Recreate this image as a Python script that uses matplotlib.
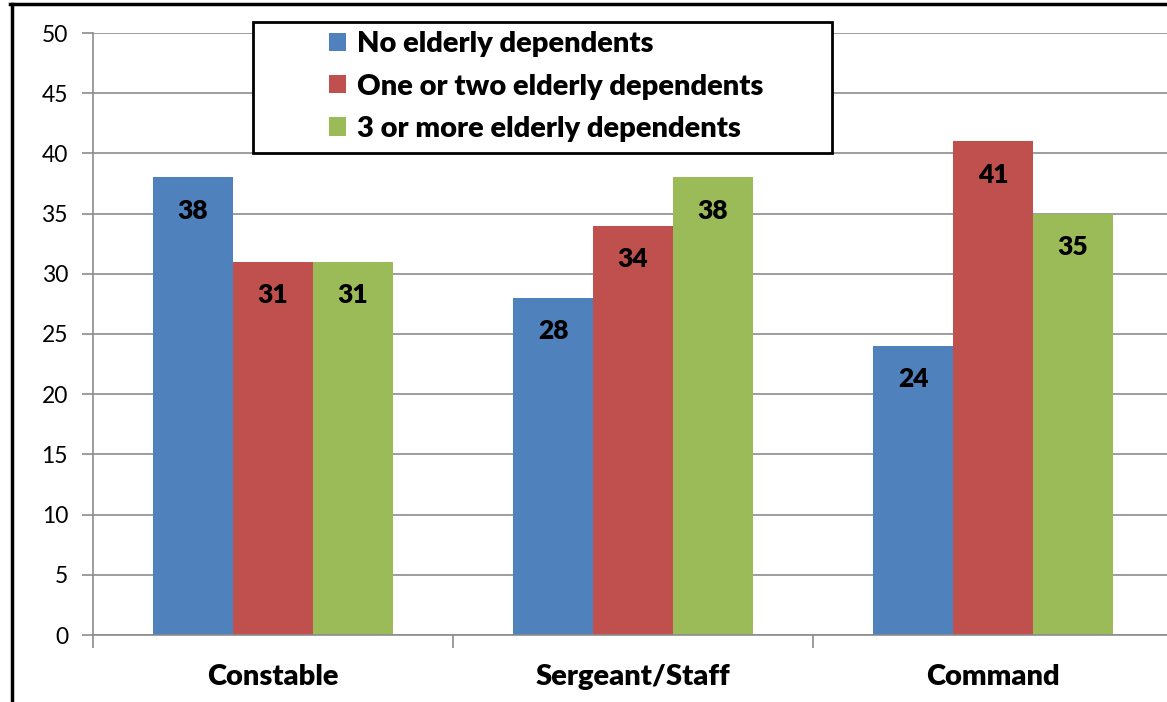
import numpy as np
import matplotlib.pyplot as plt
from matplotlib.patches import Rectangle
from matplotlib.lines import Line2D

# data
categories = ["Constable", "Sergeant/Staff", "Command"]
series_names = ["No elderly dependents", "One or two elderly dependents", "3 or more elderly dependents"]
no_dep = [38, 28, 24]
one_two_dep = [31, 34, 41]
three_plus_dep = [31, 38, 35]
colors = ["#4F81BD", "#C0504D", "#9BBB59"]

plt.rcParams['font.family'] = ['Lato', 'DejaVu Sans']

fig = plt.figure(figsize=(11.67, 7.02), dpi=100)
ax = fig.add_axes([93/1167, 1 - 635/702, 1080/1167, (635 - 33)/702])

x = np.arange(len(categories))
w = 0.2222
for i, (vals, name) in enumerate(zip([no_dep, one_two_dep, three_plus_dep], series_names)):
    bars = ax.bar(x + (i - 1) * w, vals, w, color=colors[i], label=name, zorder=2)
    for b, v in zip(bars, vals):
        ax.annotate(str(v), (b.get_x() + b.get_width() / 2, v), xytext=(0, -24),
                    textcoords='offset points', ha='center', va='center',
                    fontsize=19, fontweight='heavy', color='black')

ax.set_xlim(-0.5, 2.5)
ax.set_ylim(0, 50)
ax.set_yticks(range(0, 51, 5))
ax.yaxis.grid(True, color='#8c8c8c', linewidth=1.2, zorder=0)
ax.set_axisbelow(True)

# category boundaries as major ticks, names on minor ticks
ax.set_xticks([-0.5, 0.5, 1.5, 2.5])
ax.set_xticklabels([])
ax.set_xticks(x, minor=True)
ax.set_xticklabels(categories, minor=True, fontsize=21, fontweight='heavy')
ax.tick_params(axis='x', which='major', length=9, color='#8c8c8c', width=1.2)
ax.tick_params(axis='x', which='minor', length=0, pad=21)
ax.tick_params(axis='y', length=8, color='#8c8c8c', width=1.2, labelsize=16.5, pad=10)

for s in ['top', 'right']:
    ax.spines[s].set_visible(False)
for s in ['left', 'bottom']:
    ax.spines[s].set_color('#8c8c8c')
    ax.spines[s].set_linewidth(1.2)

# legend box
box = Rectangle((253/1167, 1 - 153/702), (832 - 253)/1167, (153 - 22)/702,
                transform=fig.transFigure, facecolor='white',
                edgecolor='black', linewidth=2, zorder=3, clip_on=False)
ax.add_patch(box)
leg = ax.legend(loc='center', bbox_to_anchor=(546/1167, 1 - 86.5/702),
                bbox_transform=fig.transFigure, frameon=False,
                prop={'size': 21, 'weight': 'heavy'}, handlelength=0.6,
                handleheight=0.6, handletextpad=0.35, labelspacing=0.55)
leg.set_zorder(4)

# outer chart frame (left and top edges)
fig.add_artist(Line2D([11.5/1167, 11.5/1167], [0, 1 - 4/702], color='black', linewidth=2.5, transform=fig.transFigure))
fig.add_artist(Line2D([10/1167, 1], [1 - 4/702, 1 - 4/702], color='black', linewidth=2.5, transform=fig.transFigure))

fig.savefig("out.png", dpi=100)
